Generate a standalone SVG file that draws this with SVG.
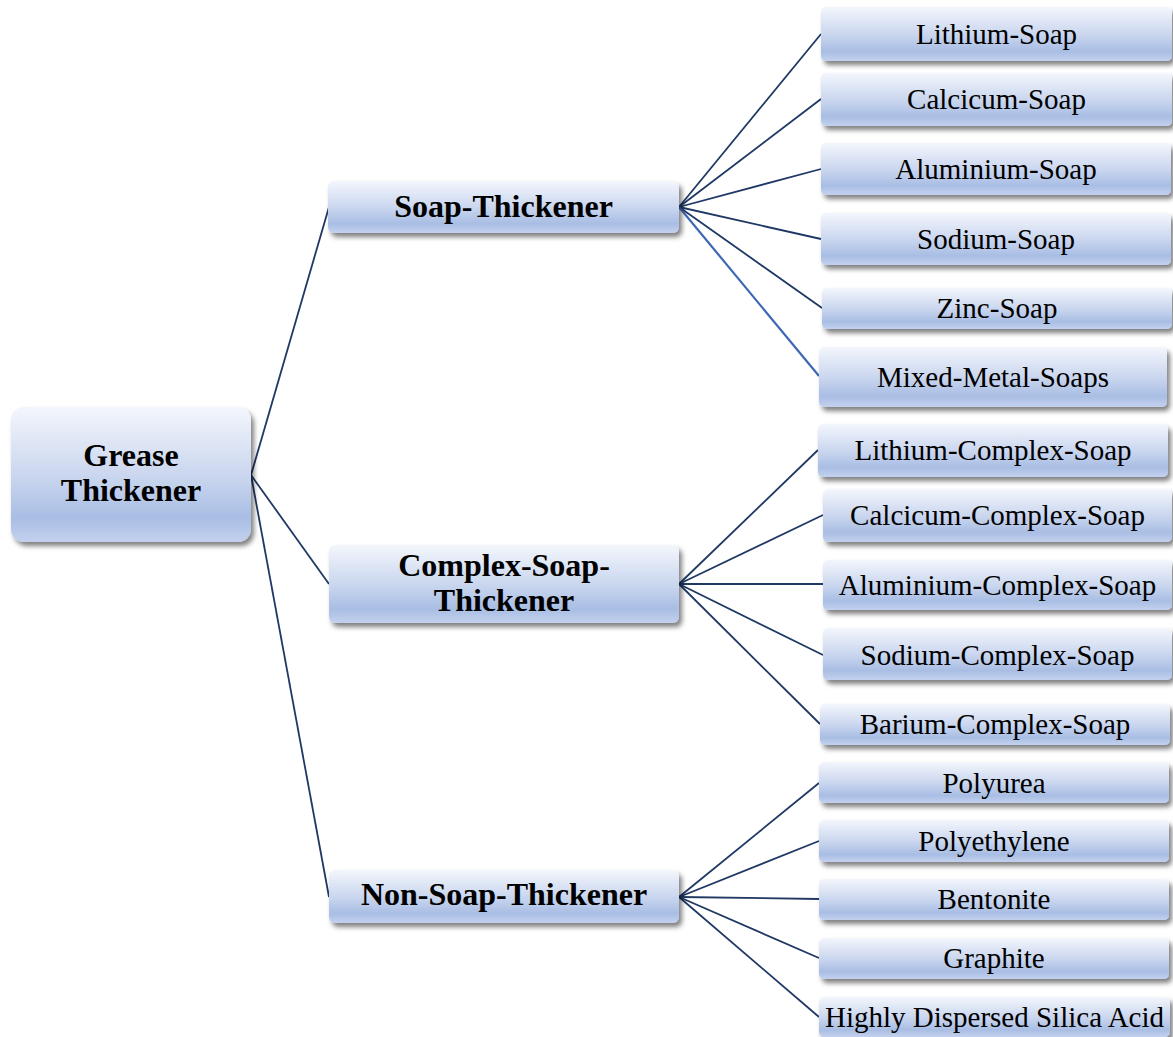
<svg xmlns="http://www.w3.org/2000/svg" width="1173" height="1037" viewBox="0 0 1173 1037">
<defs>
<linearGradient id="g" x1="0" y1="0" x2="0" y2="1">
<stop offset="0" stop-color="#f3f6fc"/>
<stop offset="0.5" stop-color="#cbd7ef"/>
<stop offset="0.82" stop-color="#a9bee4"/>
<stop offset="1" stop-color="#c3d1ee"/>
</linearGradient>
<filter id="sh" x="-10%" y="-20%" width="125%" height="160%">
<feDropShadow dx="3" dy="4" stdDeviation="2.5" flood-color="#000" flood-opacity="0.5"/>
</filter>
</defs>
<style>
.box{fill:url(#g);filter:url(#sh)}
.t{font-family:"Liberation Serif","Times New Roman",serif;font-size:29px;fill:#000;text-anchor:middle}
.b{font-family:"Liberation Serif","Times New Roman",serif;font-size:32px;font-weight:bold;fill:#000;text-anchor:middle}
.c{stroke:#1f3864;stroke-width:1.8;fill:none}
.c2{stroke:#3f68b4;stroke-width:2.2;fill:none}
</style>
<g id="connectors">
<line class="c" x1="251" y1="475" x2="329" y2="207"/>
<line class="c" x1="251" y1="475" x2="329" y2="584"/>
<line class="c" x1="251" y1="475" x2="329" y2="897"/>
<line class="c" x1="679" y1="207" x2="821" y2="34"/>
<line class="c" x1="679" y1="207" x2="821" y2="99"/>
<line class="c" x1="679" y1="207" x2="821" y2="169"/>
<line class="c" x1="679" y1="207" x2="821" y2="239"/>
<line class="c" x1="679" y1="207" x2="822" y2="308"/>
<line class="c2" x1="679" y1="207" x2="819" y2="376"/>
<line class="c" x1="679" y1="584" x2="818" y2="450"/>
<line class="c" x1="679" y1="584" x2="823" y2="515"/>
<line class="c" x1="679" y1="584" x2="823" y2="584"/>
<line class="c" x1="679" y1="584" x2="823" y2="655"/>
<line class="c" x1="679" y1="584" x2="820" y2="724"/>
<line class="c" x1="679" y1="897" x2="819" y2="783"/>
<line class="c" x1="679" y1="897" x2="819" y2="841"/>
<line class="c" x1="679" y1="897" x2="819" y2="899"/>
<line class="c" x1="679" y1="897" x2="819" y2="958"/>
<line class="c" x1="679" y1="897" x2="819" y2="1017"/>
</g>
<g id="root"><rect class="box" x="11" y="407" width="240" height="135" rx="13"/><text class="b" x="131" y="466">Grease</text><text class="b" x="131" y="501">Thickener</text></g>
<g id="soap"><rect class="box" x="328" y="181" width="351" height="52" rx="6"/><text class="b" x="503.5" y="217">Soap-Thickener</text></g>
<g id="complex"><rect class="box" x="329" y="545" width="350" height="78" rx="6"/><text class="b" x="504" y="576">Complex-Soap-</text><text class="b" x="504" y="611">Thickener</text></g>
<g id="nonsoap"><rect class="box" x="329" y="870" width="350" height="53" rx="6"/><text class="b" x="504" y="905">Non-Soap-Thickener</text></g>
<g id="lithium"><rect class="box" x="821" y="7" width="351" height="54" rx="5"/><text class="t" x="996.5" y="44">Lithium-Soap</text></g>
<g id="calcicum"><rect class="box" x="821" y="73" width="351" height="53" rx="5"/><text class="t" x="996.5" y="109">Calcicum-Soap</text></g>
<g id="aluminium"><rect class="box" x="821" y="143" width="350" height="52" rx="5"/><text class="t" x="996" y="179">Aluminium-Soap</text></g>
<g id="sodium"><rect class="box" x="821" y="213" width="350" height="52" rx="5"/><text class="t" x="996" y="249">Sodium-Soap</text></g>
<g id="zinc"><rect class="box" x="822" y="288" width="350" height="41" rx="5"/><text class="t" x="997" y="318">Zinc-Soap</text></g>
<g id="mixed"><rect class="box" x="819" y="347" width="348" height="60" rx="5"/><text class="t" x="993" y="387">Mixed-Metal-Soaps</text></g>
<g id="lithiumc"><rect class="box" x="818" y="424" width="350" height="53" rx="5"/><text class="t" x="993" y="460">Lithium-Complex-Soap</text></g>
<g id="calcicumc"><rect class="box" x="823" y="489" width="349" height="53" rx="5"/><text class="t" x="997.5" y="525">Calcicum-Complex-Soap</text></g>
<g id="aluminiumc"><rect class="box" x="823" y="560" width="349" height="50" rx="5"/><text class="t" x="997.5" y="595">Aluminium-Complex-Soap</text></g>
<g id="sodiumc"><rect class="box" x="823" y="628" width="349" height="52" rx="5"/><text class="t" x="997.5" y="665">Sodium-Complex-Soap</text></g>
<g id="bariumc"><rect class="box" x="820" y="704" width="350" height="41" rx="5"/><text class="t" x="995" y="734">Barium-Complex-Soap</text></g>
<g id="polyurea"><rect class="box" x="819" y="762" width="350" height="41" rx="5"/><text class="t" x="994" y="793">Polyurea</text></g>
<g id="polyethylene"><rect class="box" x="819" y="820" width="350" height="42" rx="5"/><text class="t" x="994" y="851">Polyethylene</text></g>
<g id="bentonite"><rect class="box" x="819" y="879" width="350" height="41" rx="5"/><text class="t" x="994" y="909">Bentonite</text></g>
<g id="graphite"><rect class="box" x="819" y="938" width="350" height="41" rx="5"/><text class="t" x="994" y="968">Graphite</text></g>
<g id="silica"><rect class="box" x="819" y="997" width="351" height="40" rx="5"/><text class="t" x="994.5" y="1027">Highly Dispersed Silica Acid</text></g>
</svg>
